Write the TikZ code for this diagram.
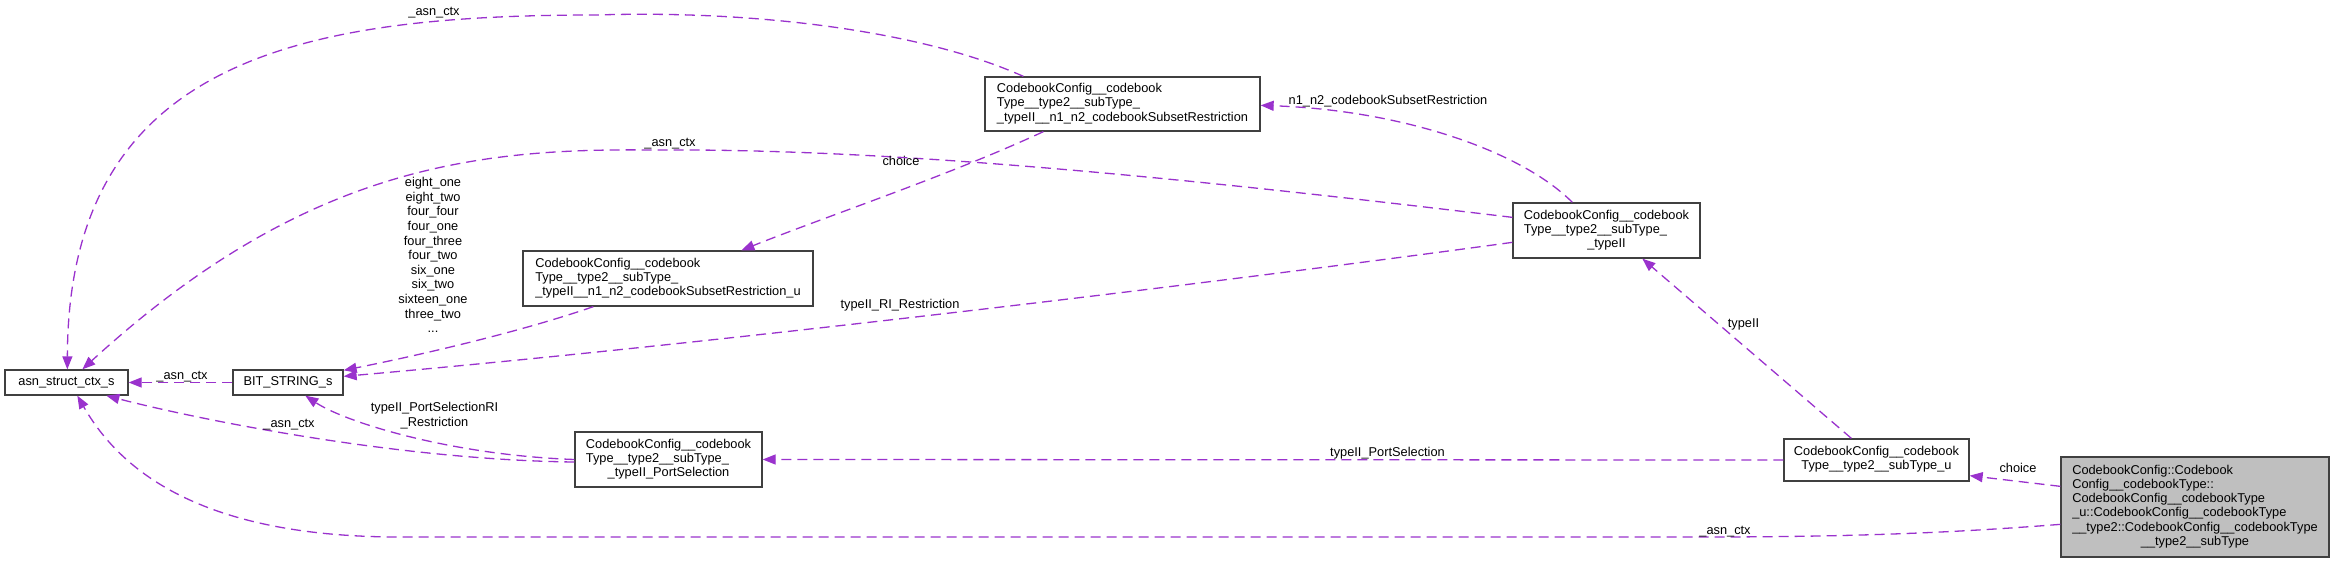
\documentclass[tikz,border=0pt]{standalone}
\usepackage{fontspec}
\setmainfont{Liberation Sans}
\usetikzlibrary{arrows.meta,calc}
\definecolor{edgecol}{RGB}{154,50,205}
\definecolor{boxgray}{RGB}{191,191,191}
\newcommand{\boxtxt}[1]{\begin{tabular}{@{}l@{}}#1\end{tabular}}
\newcommand{\lastc}[1]{\multicolumn{1}{@{}c@{}}{#1}}
\newcommand{\ctxt}[1]{\begin{tabular}{@{}c@{}}#1\end{tabular}}
\begin{document}
\begin{tikzpicture}[x=1pt,y=-1pt,
  cls/.style={draw=black!75, line width=1.3pt, fill=white, inner sep=0pt, font=\fontsize{12.8}{14.2}\selectfont},
  lab/.style={inner sep=0pt, font=\fontsize{12.8}{14.2}\selectfont},
  usage/.style={draw=edgecol, line width=1.3pt, dash pattern=on 10pt off 6pt, -{Triangle[length=13pt,width=10pt]}},
]
\useasboundingbox (0,0) rectangle (2335,563);

% classes
\node[cls, minimum width=123pt, minimum height=25pt] (asn) at (66.5,382.5) {\boxtxt{asn\_struct\_ctx\_s}};
\node[cls, minimum width=110pt, minimum height=25pt] (bit) at (288,382.5) {\boxtxt{BIT\_STRING\_s}};
\node[cls, minimum width=290pt, minimum height=55pt] (nsru) at (668,278.5) {\boxtxt{CodebookConfig\_\_codebook\\Type\_\_type2\_\_subType\_\\\lastc{\_typeII\_\_n1\_n2\_codebookSubsetRestriction\_u}}};
\node[cls, minimum width=275pt, minimum height=54pt] (nsr) at (1122.5,104) {\boxtxt{CodebookConfig\_\_codebook\\Type\_\_type2\_\_subType\_\\\lastc{\_typeII\_\_n1\_n2\_codebookSubsetRestriction}}};
\node[cls, minimum width=187pt, minimum height=55pt] (t2) at (1606.5,230.5) {\boxtxt{CodebookConfig\_\_codebook\\Type\_\_type2\_\_subType\_\\\lastc{\_typeII}}};
\node[cls, minimum width=187pt, minimum height=55pt] (ps) at (668.5,459.5) {\boxtxt{CodebookConfig\_\_codebook\\Type\_\_type2\_\_subType\_\\\lastc{\_typeII\_PortSelection}}};
\node[cls, minimum width=185pt, minimum height=42pt] (stu) at (1876.5,460) {\boxtxt{CodebookConfig\_\_codebook\\\lastc{Type\_\_type2\_\_subType\_u}}};
\node[cls, fill=boxgray, minimum width=268pt, minimum height=100pt] (main) at (2195,507) {\boxtxt{CodebookConfig::Codebook\\Config\_\_codebookType::\\CodebookConfig\_\_codebookType\\\_u::CodebookConfig\_\_codebookType\\\_\_type2::CodebookConfig\_\_codebookType\\\lastc{\_\_type2\_\_subType}}};

% edges
\draw[usage] ($(nsr.north west)+(39,0)$) .. controls (920,30) and (750,10) .. (596,15) .. controls (300,15) and (68,60) .. ($(asn.north west)+(63,0)$);
\draw[usage] ($(t2.north west)+(0,15)$) .. controls (1200,180) and (900,148) .. (650,150) .. controls (470,148) and (300,170) .. ($(asn.north west)+(78,0)$);
\draw[usage] ($(main.north west)+(0,68)$) .. controls (1950,533) and (1850,537) .. (1700,537) -- (400,537) .. controls (200,537) and (120,470) .. ($(asn.south west)+(73,0)$);
\draw[usage] (bit.west) -- (asn.east);
\draw[usage] ($(ps.west)+(0,2.5)$) .. controls (400,460) and (200,420) .. ($(asn.south west)+(102,0)$);
\draw[usage] (ps.west) .. controls (450,455) and (345,422) .. ($(bit.south west)+(73,0)$);
\draw[usage] ($(nsru.south west)+(71,0)$) .. controls (520,332) and (420,355) .. ($(bit.north east)+(0,1)$);
\draw[usage] ($(t2.north west)+(0,40)$) .. controls (1200,285) and (700,345) .. ($(bit.north east)+(0,7)$);
\draw[usage] ($(nsr.south west)+(59,0)$) .. controls (950,175) and (830,215) .. ($(nsru.north west)+(219,0)$);
\draw[usage] ($(t2.north west)+(60,0)$) .. controls (1520,150) and (1400,110) .. ($(nsr.north east)+(0,29)$);
\draw[usage] ($(stu.north west)+(68,0)$) -- ($(t2.south west)+(130,0)$);
\draw[usage] (stu.west) -- (ps.east);
\draw[usage] ($(main.north west)+(0,30)$) -- ($(stu.south east)+(0,-6)$);

% labels
\node[lab, anchor=base] (l1) at (434,15) {\_asn\_ctx};
\node[lab, anchor=base] (l2) at (670,146) {\_asn\_ctx};
\node[lab, anchor=base] (l3) at (1725,534) {\_asn\_ctx};
\node[lab, anchor=base] (l4) at (182,379) {\_asn\_ctx};
\node[lab, anchor=base] (l5) at (289,427) {\_asn\_ctx};
\node[lab] (l6) at (434.5,416.2) {\ctxt{typeII\_PortSelectionRI\\\_Restriction}};
\node[lab, font=\fontsize{12.8}{14.6}\selectfont] (l7) at (433,256.8) {\ctxt{eight\_one\\eight\_two\\four\_four\\four\_one\\four\_three\\four\_two\\six\_one\\six\_two\\sixteen\_one\\three\_two\\...}};
\node[lab, anchor=base] (l8) at (900,308) {typeII\_RI\_Restriction};
\node[lab, anchor=base] (l9) at (901,165) {choice};
\node[lab, anchor=base] (l10) at (1388,104) {n1\_n2\_codebookSubsetRestriction};
\node[lab, anchor=base] (l11) at (1743.5,327) {typeII};
\node[lab, anchor=base] (l12) at (1387.5,456) {typeII\_PortSelection};
\node[lab, anchor=base] (l13) at (2018,472) {choice};
\end{tikzpicture}
\end{document}
